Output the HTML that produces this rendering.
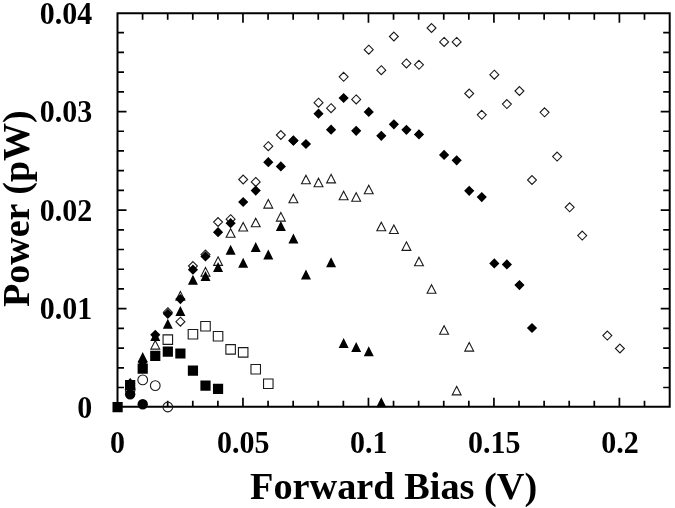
<!DOCTYPE html>
<html><head><meta charset="utf-8"><style>
html,body{margin:0;padding:0;background:#fff;width:675px;height:508px;overflow:hidden}
svg{display:block;will-change:transform}
</style></head><body>
<svg width="675" height="508" viewBox="0 0 675 508">
<rect width="675" height="508" fill="#fff"/>
<path d="M117.5 13.3H669.7V406.8H117.5Z" fill="none" stroke="#000" stroke-width="2"/><path d="M142.59 406.8v-6M142.59 13.3v6.5M167.69 406.8v-6M167.69 13.3v6.5M192.78 406.8v-6M192.78 13.3v6.5M217.88 406.8v-6M217.88 13.3v6.5M242.97 406.8v-9M242.97 13.3v9.5M268.07 406.8v-6M268.07 13.3v6.5M293.16 406.8v-6M293.16 13.3v6.5M318.26 406.8v-6M318.26 13.3v6.5M343.36 406.8v-6M343.36 13.3v6.5M368.45 406.8v-9M368.45 13.3v9.5M393.54 406.8v-6M393.54 13.3v6.5M418.64 406.8v-6M418.64 13.3v6.5M443.74 406.8v-6M443.74 13.3v6.5M468.83 406.8v-6M468.83 13.3v6.5M493.92 406.8v-9M493.92 13.3v9.5M519.02 406.8v-6M519.02 13.3v6.5M544.12 406.8v-6M544.12 13.3v6.5M569.21 406.8v-6M569.21 13.3v6.5M594.3 406.8v-6M594.3 13.3v6.5M619.4 406.8v-9M619.4 13.3v9.5M644.5 406.8v-6M644.5 13.3v6.5M117.5 387.49h6.5M669.7 387.49h-6.5M117.5 367.78h6.5M669.7 367.78h-6.5M117.5 348.07h6.5M669.7 348.07h-6.5M117.5 328.36h6.5M669.7 328.36h-6.5M117.5 308.65h9M669.7 308.65h-9M117.5 288.94h6.5M669.7 288.94h-6.5M117.5 269.23h6.5M669.7 269.23h-6.5M117.5 249.52h6.5M669.7 249.52h-6.5M117.5 229.81h6.5M669.7 229.81h-6.5M117.5 210.1h9M669.7 210.1h-9M117.5 190.39h6.5M669.7 190.39h-6.5M117.5 170.68h6.5M669.7 170.68h-6.5M117.5 150.97h6.5M669.7 150.97h-6.5M117.5 131.26h6.5M669.7 131.26h-6.5M117.5 111.55h9M669.7 111.55h-9M117.5 91.84h6.5M669.7 91.84h-6.5M117.5 72.13h6.5M669.7 72.13h-6.5M117.5 52.42h6.5M669.7 52.42h-6.5M117.5 32.71h6.5M669.7 32.71h-6.5" fill="none" stroke="#000" stroke-width="1.7"/>
<g fill="none" stroke="#1a1a1a" stroke-width="1.1"><circle cx="130.16" cy="389.5" r="4.85"/><circle cx="142.72" cy="379.9" r="4.85"/><circle cx="155.27" cy="385.6" r="4.85"/><circle cx="167.83" cy="407" r="4.85"/></g>
<path fill="none" stroke="#1a1a1a" stroke-width="1.1" stroke-linejoin="miter" d="M163.08 334.85h9.5v9.5h-9.5ZM188.19 329.45h9.5v9.5h-9.5ZM200.75 321.55h9.5v9.5h-9.5ZM213.31 331.55h9.5v9.5h-9.5ZM225.87 344.65h9.5v9.5h-9.5ZM238.43 347.65h9.5v9.5h-9.5ZM250.98 364.55h9.5v9.5h-9.5ZM263.54 379.05h9.5v9.5h-9.5Z"/>
<path fill="none" stroke="#1a1a1a" stroke-width="1.1" stroke-linejoin="miter" d="M155.27 340.54L159.72 349.1L150.83 349.1ZM180.39 291.54L184.83 300.1L175.94 300.1ZM205.5 267.54L209.95 276.1L201.06 276.1ZM218.06 256.84L222.5 265.4L213.62 265.4ZM230.62 228.74L235.06 237.3L226.17 237.3ZM243.18 222.44L247.62 231L238.73 231ZM255.73 218.24L260.18 226.8L251.29 226.8ZM268.29 199.54L272.73 208.1L263.85 208.1ZM280.85 212.54L285.29 221.1L276.4 221.1ZM293.4 194.24L297.85 202.8L288.96 202.8ZM305.96 175.14L310.41 183.7L301.52 183.7ZM318.52 178.14L322.96 186.7L314.08 186.7ZM331.08 174.34L335.52 182.9L326.63 182.9ZM343.63 191.24L348.08 199.8L339.19 199.8ZM356.19 192.64L360.64 201.2L351.75 201.2ZM368.75 185.24L373.19 193.8L364.31 193.8ZM381.31 222.24L385.75 230.8L376.86 230.8ZM393.87 224.94L398.31 233.5L389.42 233.5ZM406.42 241.84L410.87 250.4L401.98 250.4ZM418.98 257.14L423.42 265.7L414.54 265.7ZM431.54 284.74L435.98 293.3L427.09 293.3ZM444.1 325.64L448.54 334.2L439.65 334.2ZM456.65 386.34L461.1 394.9L452.21 394.9ZM469.21 342.54L473.65 351.1L464.77 351.1Z"/>
<path fill="none" stroke="#1a1a1a" stroke-width="1.1" stroke-linejoin="miter" d="M130.16 378.93L134.63 383.4L130.16 387.87L125.69 383.4ZM167.83 307.73L172.3 312.2L167.83 316.67L163.36 312.2ZM180.39 317.23L184.86 321.7L180.39 326.17L175.92 321.7ZM192.94 261.53L197.42 266L192.94 270.47L188.47 266ZM205.5 250.03L209.97 254.5L205.5 258.97L201.03 254.5ZM218.06 217.53L222.53 222L218.06 226.47L213.59 222ZM230.62 214.73L235.09 219.2L230.62 223.67L226.15 219.2ZM243.18 175.03L247.65 179.5L243.18 183.97L238.7 179.5ZM255.73 177.43L260.2 181.9L255.73 186.37L251.26 181.9ZM268.29 141.73L272.76 146.2L268.29 150.67L263.82 146.2ZM280.85 130.53L285.32 135L280.85 139.47L276.38 135ZM293.4 136.03L297.88 140.5L293.4 144.97L288.93 140.5ZM318.52 98.23L322.99 102.7L318.52 107.17L314.05 102.7ZM331.08 103.73L335.55 108.2L331.08 112.67L326.61 108.2ZM343.63 72.33L348.11 76.8L343.63 81.27L339.16 76.8ZM356.19 94.93L360.66 99.4L356.19 103.87L351.72 99.4ZM368.75 45.23L373.22 49.7L368.75 54.17L364.28 49.7ZM381.31 65.73L385.78 70.2L381.31 74.67L376.84 70.2ZM393.87 32.03L398.34 36.5L393.87 40.97L389.39 36.5ZM406.42 58.93L410.89 63.4L406.42 67.87L401.95 63.4ZM418.98 60.33L423.45 64.8L418.98 69.27L414.51 64.8ZM431.54 23.53L436.01 28L431.54 32.47L427.07 28ZM444.1 37.43L448.57 41.9L444.1 46.37L439.62 41.9ZM456.65 37.43L461.12 41.9L456.65 46.37L452.18 41.9ZM469.21 89.03L473.68 93.5L469.21 97.97L464.74 93.5ZM481.77 110.33L486.24 114.8L481.77 119.27L477.3 114.8ZM494.32 70.23L498.8 74.7L494.32 79.17L489.85 74.7ZM506.88 99.63L511.35 104.1L506.88 108.57L502.41 104.1ZM519.44 86.53L523.91 91L519.44 95.47L514.97 91ZM532 175.53L536.47 180L532 184.47L527.53 180ZM544.56 107.83L549.03 112.3L544.56 116.77L540.08 112.3ZM557.11 152.13L561.58 156.6L557.11 161.07L552.64 156.6ZM569.67 202.83L574.14 207.3L569.67 211.77L565.2 207.3ZM582.23 231.13L586.7 235.6L582.23 240.07L577.76 235.6ZM607.34 331.13L611.81 335.6L607.34 340.07L602.87 335.6ZM619.9 344.03L624.37 348.5L619.9 352.97L615.43 348.5Z"/>
<g fill="#000"><circle cx="130.16" cy="394.3" r="5.2"/><circle cx="142.72" cy="404.3" r="5.2"/></g>
<path fill="#000" d="M112.5 402.1h10.2v10.2h-10.2ZM125.06 380.1h10.2v10.2h-10.2ZM137.62 363.6h10.2v10.2h-10.2ZM150.17 350.8h10.2v10.2h-10.2ZM162.73 346.6h10.2v10.2h-10.2ZM175.29 348.4h10.2v10.2h-10.2ZM187.84 365.5h10.2v10.2h-10.2ZM200.4 380.5h10.2v10.2h-10.2ZM212.96 383.7h10.2v10.2h-10.2Z"/>
<path fill="#000" d="M130.16 378L135.16 388L125.16 388ZM142.72 352.1L147.72 362.1L137.72 362.1ZM155.27 331L160.27 341L150.27 341ZM167.83 318.8L172.83 328.8L162.83 328.8ZM180.39 305.9L185.39 315.9L175.39 315.9ZM192.94 274.8L197.94 284.8L187.94 284.8ZM205.5 271L210.5 281L200.5 281ZM218.06 262L223.06 272L213.06 272ZM230.62 244.7L235.62 254.7L225.62 254.7ZM243.18 257.7L248.18 267.7L238.18 267.7ZM255.73 242L260.73 252L250.73 252ZM268.29 249.4L273.29 259.4L263.29 259.4ZM280.85 221L285.85 231L275.85 231ZM293.4 233.6L298.4 243.6L288.4 243.6ZM305.96 269.4L310.96 279.4L300.96 279.4ZM331.08 257.3L336.08 267.3L326.08 267.3ZM343.63 338.1L348.63 348.1L338.63 348.1ZM356.19 342L361.19 352L351.19 352ZM368.75 346.2L373.75 356.2L363.75 356.2ZM381.31 397.3L386.31 407.3L376.31 407.3Z"/>
<path fill="#000" d="M130.16 380.4L135.26 385.5L130.16 390.6L125.06 385.5ZM142.72 356.9L147.81 362L142.72 367.1L137.62 362ZM155.27 329.7L160.37 334.8L155.27 339.9L150.17 334.8ZM167.83 308.7L172.93 313.8L167.83 318.9L162.73 313.8ZM180.39 294L185.49 299.1L180.39 304.2L175.29 299.1ZM192.94 264.6L198.04 269.7L192.94 274.8L187.84 269.7ZM205.5 251.3L210.6 256.4L205.5 261.5L200.4 256.4ZM218.06 227.1L223.16 232.2L218.06 237.3L212.96 232.2ZM230.62 218.1L235.72 223.2L230.62 228.3L225.52 223.2ZM243.18 196.9L248.28 202L243.18 207.1L238.08 202ZM255.73 185.5L260.83 190.6L255.73 195.7L250.63 190.6ZM268.29 157.1L273.39 162.2L268.29 167.3L263.19 162.2ZM280.85 161.3L285.95 166.4L280.85 171.5L275.75 166.4ZM293.4 135.6L298.5 140.7L293.4 145.8L288.3 140.7ZM305.96 138.9L311.06 144L305.96 149.1L300.86 144ZM318.52 108.6L323.62 113.7L318.52 118.8L313.42 113.7ZM331.08 124.6L336.18 129.7L331.08 134.8L325.98 129.7ZM343.63 92.9L348.74 98L343.63 103.1L338.53 98ZM356.19 125.7L361.29 130.8L356.19 135.9L351.09 130.8ZM368.75 106.8L373.85 111.9L368.75 117L363.65 111.9ZM381.31 130.7L386.41 135.8L381.31 140.9L376.21 135.8ZM393.87 119.2L398.97 124.3L393.87 129.4L388.76 124.3ZM406.42 124.7L411.52 129.8L406.42 134.9L401.32 129.8ZM418.98 129.3L424.08 134.4L418.98 139.5L413.88 134.4ZM444.1 149.8L449.2 154.9L444.1 160L439 154.9ZM456.65 155.2L461.75 160.3L456.65 165.4L451.55 160.3ZM469.21 185.7L474.31 190.8L469.21 195.9L464.11 190.8ZM481.77 192L486.87 197.1L481.77 202.2L476.67 197.1ZM494.32 258.3L499.42 263.4L494.32 268.5L489.22 263.4ZM506.88 259.3L511.98 264.4L506.88 269.5L501.78 264.4ZM519.44 280L524.54 285.1L519.44 290.2L514.34 285.1ZM532 322.9L537.1 328L532 333.1L526.9 328Z"/>
<text transform="translate(92.2 417.7) scale(1 1.057)" text-anchor="end" font-size="30" font-family="Liberation Serif" font-weight="bold">0</text>
<text transform="translate(92.2 319.15) scale(1 1.057)" text-anchor="end" font-size="30" font-family="Liberation Serif" font-weight="bold">0.01</text>
<text transform="translate(92.2 220.6) scale(1 1.057)" text-anchor="end" font-size="30" font-family="Liberation Serif" font-weight="bold">0.02</text>
<text transform="translate(92.2 122.05) scale(1 1.057)" text-anchor="end" font-size="30" font-family="Liberation Serif" font-weight="bold">0.03</text>
<text transform="translate(92.2 23.5) scale(1 1.057)" text-anchor="end" font-size="30" font-family="Liberation Serif" font-weight="bold">0.04</text>
<text transform="translate(117.6 453.3) scale(1 1.057)" text-anchor="middle" font-size="30" font-family="Liberation Serif" font-weight="bold">0</text>
<text transform="translate(243.18 453.3) scale(1 1.057)" text-anchor="middle" font-size="30" font-family="Liberation Serif" font-weight="bold">0.05</text>
<text transform="translate(368.75 453.3) scale(1 1.057)" text-anchor="middle" font-size="30" font-family="Liberation Serif" font-weight="bold">0.1</text>
<text transform="translate(494.33 453.3) scale(1 1.057)" text-anchor="middle" font-size="30" font-family="Liberation Serif" font-weight="bold">0.15</text>
<text transform="translate(619.9 453.3) scale(1 1.057)" text-anchor="middle" font-size="30" font-family="Liberation Serif" font-weight="bold">0.2</text>
<text x="393.6" y="498.9" text-anchor="middle" font-size="38.3" font-family="Liberation Serif" font-weight="bold">Forward Bias (V)</text>
<text transform="translate(28.9 208.6) rotate(-90)" x="0" y="0" text-anchor="middle" font-size="38" font-family="Liberation Serif" font-weight="bold">Power (pW)</text>
</svg>
</body></html>
